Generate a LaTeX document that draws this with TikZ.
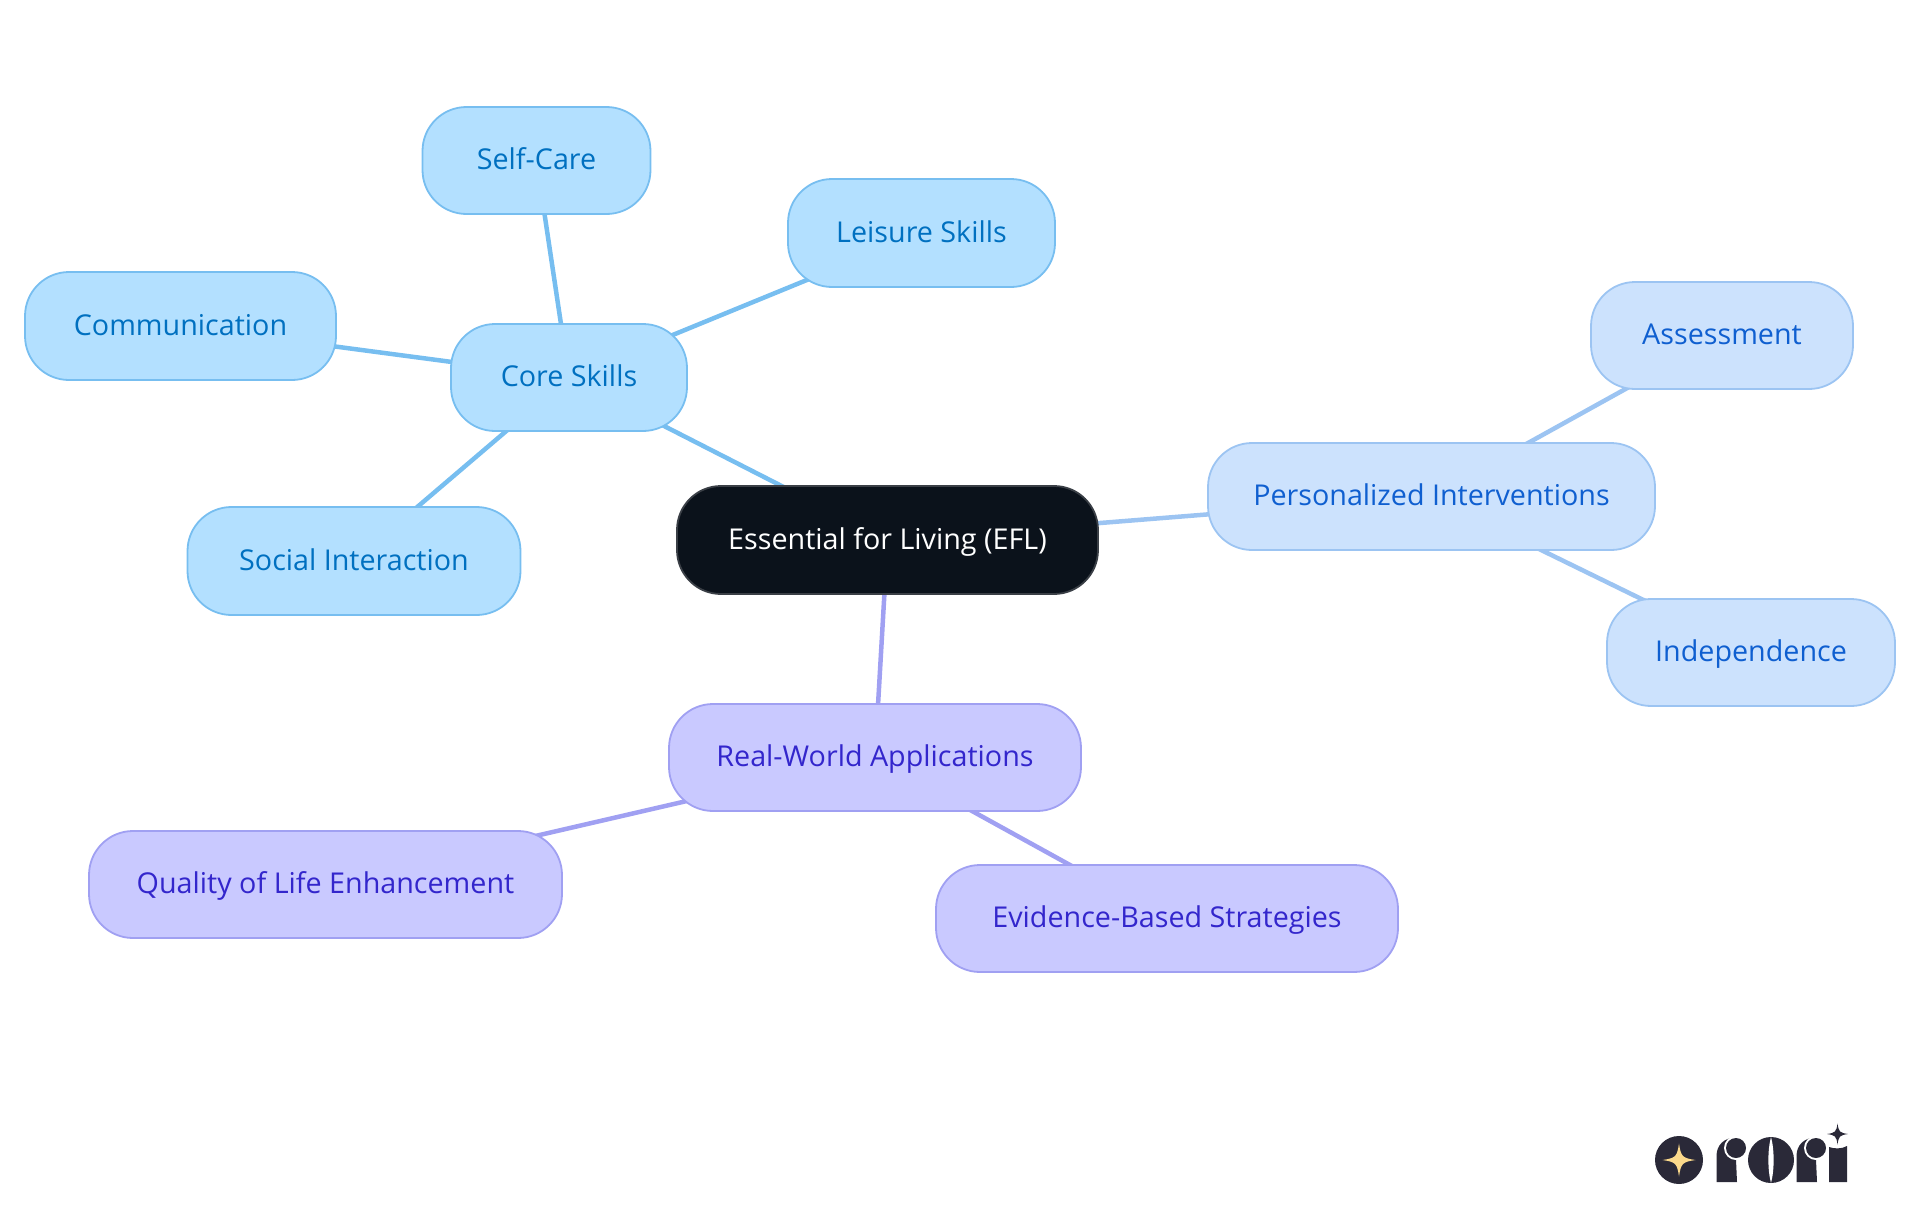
\documentclass[tikz,border=0pt]{standalone}
\usepackage{fontspec}
\setmainfont{Open Sans}
\usetikzlibrary{backgrounds}
\definecolor{rootfill}{HTML}{0B121B}
\definecolor{rootdraw}{HTML}{3A3F46}
\definecolor{afill}{HTML}{B3E0FF}
\definecolor{adraw}{HTML}{77BEF0}
\definecolor{atext}{HTML}{0070C0}
\definecolor{bfill}{HTML}{CCE2FD}
\definecolor{bdraw}{HTML}{9CC4F2}
\definecolor{btext}{HTML}{0F5FD0}
\definecolor{cfill}{HTML}{C9C9FF}
\definecolor{cdraw}{HTML}{A0A0F2}
\definecolor{ctext}{HTML}{3326CC}
\definecolor{logodark}{HTML}{2A2938}
\definecolor{logogold}{HTML}{FBD98B}
\tikzset{
  pill/.style={rectangle,rounded corners=44pt,inner sep=0pt,line width=1.8pt,align=center,text height=23pt,text depth=4.6pt,font=\fontsize{28.7}{34}\selectfont},
  rootn/.style={pill,fill=rootfill,draw=rootdraw,text=white},
  anode/.style={pill,fill=afill,draw=adraw,text=atext},
  bnode/.style={pill,fill=bfill,draw=bdraw,text=btext},
  cnode/.style={pill,fill=cfill,draw=cdraw,text=ctext},
  aedge/.style={draw=adraw,line width=4.5pt},
  bedge/.style={draw=bdraw,line width=4.5pt},
  cedge/.style={draw=cdraw,line width=4.5pt},
}
\newcommand{\sparkle}[4]{% x y radius colour
  \fill[#4] (#1-#3,#2) .. controls (#1-#3*0.2,#2-#3*0.12) and (#1-#3*0.12,#2-#3*0.2) .. (#1,#2-#3)
   .. controls (#1+#3*0.12,#2-#3*0.2) and (#1+#3*0.2,#2-#3*0.12) .. (#1+#3,#2)
   .. controls (#1+#3*0.2,#2+#3*0.12) and (#1+#3*0.12,#2+#3*0.2) .. (#1,#2+#3)
   .. controls (#1-#3*0.12,#2+#3*0.2) and (#1-#3*0.2,#2+#3*0.12) .. (#1-#3,#2) -- cycle;}
\begin{document}
\begin{tikzpicture}[x=1pt,y=-1pt]
\useasboundingbox (0,0) rectangle (1920,1215);
\node[rootn,minimum width=421pt,minimum height=108pt] (root) at (887.5,540) {Essential for Living (EFL)};
\node[anode,minimum width=236pt,minimum height=107pt] (core) at (569,377.5) {Core Skills};
\node[anode,minimum width=228pt,minimum height=107pt] (self) at (536.5,160.5) {Self-Care};
\node[anode,minimum width=267pt,minimum height=108pt] (leis) at (921.5,233) {Leisure Skills};
\node[anode,minimum width=311pt,minimum height=108pt] (comm) at (180.5,326) {Communication};
\node[anode,minimum width=333pt,minimum height=108pt] (soc) at (354,561) {Social Interaction};
\node[bnode,minimum width=447pt,minimum height=107pt] (pers) at (1431.5,496.5) {Personalized Interventions};
\node[bnode,minimum width=262pt,minimum height=107pt] (asse) at (1722,335.5) {Assessment};
\node[bnode,minimum width=288pt,minimum height=107pt] (inde) at (1751,652.5) {Independence};
\node[cnode,minimum width=412pt,minimum height=107pt] (real) at (875,757.5) {Real-World Applications};
\node[cnode,minimum width=473pt,minimum height=107pt] (qual) at (325.5,884.5) {Quality of Life Enhancement};
\node[cnode,minimum width=462pt,minimum height=107pt] (evid) at (1167,918.5) {Evidence-Based Strategies};
\begin{scope}[on background layer]
\draw[aedge] (root.center) -- (core.center);
\draw[aedge] (core.center) -- (self.center);
\draw[aedge] (core.center) -- (leis.center);
\draw[aedge] (core.center) -- (comm.center);
\draw[aedge] (core.center) -- (soc.center);
\draw[bedge] (root.center) -- (pers.center);
\draw[bedge] (pers.center) -- (asse.center);
\draw[bedge] (pers.center) -- (inde.center);
\draw[cedge] (root.center) -- (real.center);
\draw[cedge] (real.center) -- (qual.center);
\draw[cedge] (real.center) -- (evid.center);
\end{scope}
% logo
\fill[logodark] (1679,1160) circle (24);
\sparkle{1679}{1160}{16.5}{logogold}
\fill[logodark] (1716.5,1182) -- (1716.5,1156) .. controls (1716.5,1145) and (1724,1138) .. (1735,1137.5) -- (1737,1182) -- cycle;
\fill[white] (1736,1148) circle (12);
\fill[logodark] (1736,1148) circle (10);
\fill[logodark] (1771,1160) circle (23);
\fill[white] (1771,1137) .. controls (1767.5,1150) and (1767.5,1170) .. (1771,1183) .. controls (1774.5,1170) and (1774.5,1150) .. (1771,1137) -- cycle;
\fill[logodark] (1796.5,1182) -- (1796.5,1156) .. controls (1796.5,1145) and (1804,1138) .. (1815,1137.5) -- (1817,1182) -- cycle;
\fill[white] (1816,1148) circle (12);
\fill[logodark] (1816,1148) circle (10);
\fill[logodark] (1829,1182) -- (1829,1147) .. controls (1834,1149) and (1842,1149) .. (1847,1146) -- (1847,1182) -- cycle;
\sparkle{1837.5}{1134}{10.5}{logodark}
\end{tikzpicture}
\end{document}
